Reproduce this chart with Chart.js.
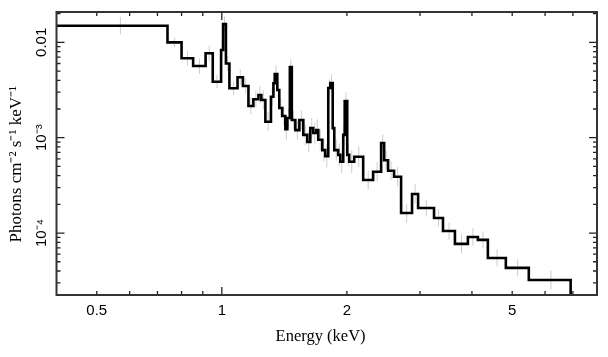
<!DOCTYPE html>
<html><head><meta charset="utf-8">
<script src="https://cdn.jsdelivr.net/npm/chart.js@4/dist/chart.umd.min.js"></script>
<style>html,body{margin:0;padding:0;background:#fff}#wrap{width:608px;height:357px;position:relative}</style>
</head><body><div id="wrap"><canvas id="c" width="608" height="357"></canvas></div>
<script>
// Bin edges (keV) of the spectrum histogram
const binEdges = [0.40,0.740,0.800,0.853,0.914,0.951,0.996,1.007,1.023,1.043,1.091,1.124,1.159,1.191,1.225,1.245,1.273,1.313,1.331,1.341,1.360,1.375,1.398,1.422,1.438,1.458,1.474,1.503,1.537,1.571,1.606,1.633,1.660,1.688,1.707,1.745,1.774,1.804,1.824,1.849,1.865,1.906,1.928,1.960,1.976,2.004,2.026,2.083,2.189,2.313,2.418,2.459,2.513,2.598,2.701,2.870,2.968,3.242,3.407,3.640,3.911,4.134,4.369,4.827,5.482,6.913];
// Flux per bin (photons cm^-2 s^-1 keV^-1)
const binFlux = [0.01493,0.0100,0.00680,0.00564,0.00767,0.00386,0.00830,0.01555,0.00599,0.00330,0.00430,0.00348,0.00215,0.00253,0.00280,0.00248,0.00147,0.00269,0.00372,0.00465,0.00316,0.00205,0.00169,0.00123,0.00161,0.00551,0.00153,0.00120,0.00153,0.00107,0.00090,0.00126,0.00112,0.00120,0.00095,0.00074,0.00064,0.00332,0.00374,0.00126,0.00074,0.00066,0.00056,0.00107,0.00242,0.00066,0.00056,0.00063,0.00036,0.00044,0.00088,0.00058,0.00045,0.00039,0.000162,0.000257,0.000183,0.000144,0.000105,0.0000769,0.0000910,0.0000847,0.0000548,0.0000431,0.0000322];
// Half-length of each grey error bar (dex)
const errDex = [0.09,0.05,0.08,0.08,0.08,0.07,0.09,0.08,0.08,0.07,0.08,0.08,0.09,0.09,0.09,0.10,0.10,0.10,0.09,0.09,0.09,0.10,0.10,0.11,0.10,0.08,0.10,0.10,0.10,0.11,0.11,0.11,0.11,0.11,0.11,0.12,0.12,0.09,0.09,0.11,0.11,0.12,0.12,0.11,0.09,0.12,0.12,0.11,0.10,0.10,0.09,0.10,0.10,0.10,0.10,0.10,0.09,0.09,0.09,0.10,0.09,0.09,0.09,0.09,0.10];
// Axis ticks
const xTickLabels = [0.5, 1, 2, 5];
const yTickLabels = [1e-4, 1e-3, 1e-2];
const yTickText = ['10\u207B\u2074', '10\u207B\u00B3', '0.01'];
const xMajorTicks = [1];
const xMinorTicks = [0.5,0.6,0.7,0.8,0.9,2,3,4,5,6,7];
const yMajorTicks = [1e-4,1e-3,1e-2];
const yMinorTicks = [3e-5,4e-5,5e-5,6e-5,7e-5,8e-5,9e-5,2e-4,3e-4,4e-4,5e-4,6e-4,7e-4,8e-4,9e-4,2e-3,3e-3,4e-3,5e-3,6e-3,7e-3,8e-3,9e-3,2e-2];

const n = binFlux.length;
const stepPts = [];
for (let i = 0; i < n; i++) stepPts.push({x: binEdges[i], y: binFlux[i]});
stepPts.push({x: binEdges[n], y: binFlux[n-1]});
stepPts.push({x: binEdges[n], y: 1e-7});

const errPts = [];
for (let i = 0; i < n; i++) {
  const c = (binEdges[i] + binEdges[i+1]) / 2;
  const f = Math.pow(10, errDex[i]);
  errPts.push({x: c, y: binFlux[i] / f}, {x: c, y: binFlux[i] * f}, {x: c, y: null});
}

const frameTicks = {
  id: 'frameTicks',
  afterDatasetsDraw(chart) {
    const {ctx, chartArea: a, scales: {x, y}} = chart;
    ctx.save();
    ctx.strokeStyle = '#222';
    ctx.lineWidth = 1.3;
    ctx.beginPath();
    const xt = (v, len) => { const p = x.getPixelForValue(v); ctx.moveTo(p, a.bottom); ctx.lineTo(p, a.bottom - len); ctx.moveTo(p, a.top); ctx.lineTo(p, a.top + len); };
    const yt = (v, len) => { const p = y.getPixelForValue(v); ctx.moveTo(a.left, p); ctx.lineTo(a.left + len, p); ctx.moveTo(a.right, p); ctx.lineTo(a.right - len, p); };
    xMajorTicks.forEach(v => xt(v, 8));
    xMinorTicks.forEach(v => xt(v, 4));
    yMajorTicks.forEach(v => yt(v, 8));
    yMinorTicks.forEach(v => yt(v, 4));
    ctx.stroke();
    ctx.lineWidth = 2;
    ctx.strokeStyle = '#333';
    ctx.strokeRect(a.left, a.top, a.right - a.left, a.bottom - a.top);
    ctx.restore();
  }
};

new Chart(document.getElementById('c'), {
  type: 'line',
  data: {
    datasets: [
      {data: stepPts, stepped: 'before', borderColor: '#000', borderWidth: 2.6, pointRadius: 0, fill: false},
      {data: errPts, borderColor: '#cdcdcd', borderWidth: 1, pointRadius: 0, fill: false, spanGaps: false}
    ]
  },
  options: {
    responsive: false,
    animation: false,
    devicePixelRatio: 1,
    layout: {padding: {left: 0, right: 11, top: 12, bottom: 0}},
    plugins: {legend: {display: false}, tooltip: {enabled: false}},
    scales: {
      x: {
        type: 'logarithmic', min: 0.4, max: 8, position: 'bottom',
        grid: {display: false, drawTicks: false}, border: {display: false},
        afterBuildTicks: s => { s.ticks = xTickLabels.map(v => ({value: v})); },
        afterFit: s => { s.height = 62; },
        ticks: {autoSkip: false, minRotation: 0, maxRotation: 0, padding: 7, color: '#000',
          font: {family: 'Liberation Sans, Arial, sans-serif', size: 15},
          callback: v => String(v)},
        title: {display: true, text: 'Energy (keV)   ', color: '#000',
          font: {family: 'Liberation Serif, Times New Roman, serif', size: 16.5},
          padding: {top: 0, bottom: 10}}
      },
      y: {
        type: 'logarithmic', min: 2.24e-5, max: 0.0208, position: 'left',
        grid: {display: false, drawTicks: false}, border: {display: false},
        afterBuildTicks: s => { s.ticks = yTickLabels.map(v => ({value: v})); },
        afterFit: s => { s.width = 56.5; },
        ticks: {autoSkip: false, minRotation: 90, maxRotation: 90, crossAlign: 'center', padding: 0, color: '#000',
          font: {family: 'Liberation Sans, Arial, sans-serif', size: 15},
          callback: (v) => { const i = yTickLabels.findIndex(t => Math.abs(t - v) / t < 1e-6); return i >= 0 ? yTickText[i] : ''; }},
        title: {display: true, text: 'Photons cm\u207B\u00B2 s\u207B\u00B9 keV\u207B\u00B9     ', color: '#000',
          font: {family: 'Liberation Serif, Times New Roman, serif', size: 17},
          padding: {top: 6, bottom: 0}}
      }
    }
  },
  plugins: [frameTicks]
});
</script>
</body></html>
